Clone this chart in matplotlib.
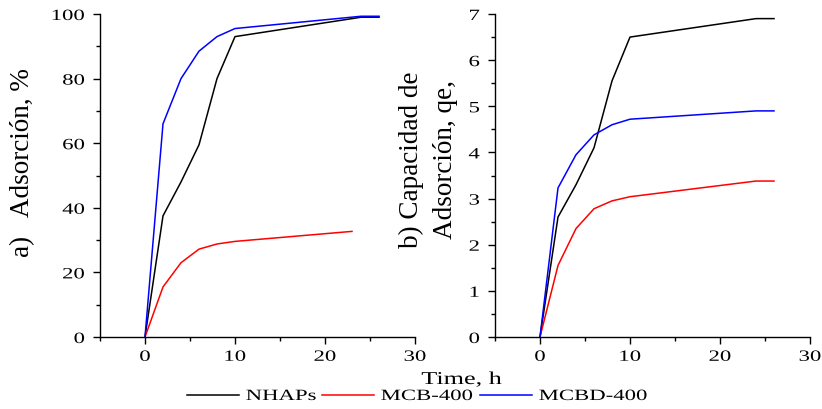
import matplotlib
matplotlib.use("Agg")
import matplotlib.pyplot as plt
from matplotlib.ticker import MultipleLocator
from matplotlib.patheffects import AbstractPathEffect
from matplotlib.transforms import Affine2D

plt.rcParams['font.family'] = ['Liberation Serif', 'DejaVu Serif']

# ---- data ----
t = [0, 2, 4, 6, 8, 10, 24, 26]
t_mcb_a = [0, 2, 4, 6, 8, 10, 23]
ads_nhaps = [0, 37.5, 48, 59.5, 80, 93, 99, 99]
ads_mcb = [0, 15.5, 23, 27.2, 28.8, 29.6, 32.7]
ads_mcbd = [0, 66, 80, 88.5, 93, 95.5, 99.3, 99.3]

qe_nhaps = [0, 2.6, 3.3, 4.1, 5.55, 6.5, 6.9, 6.9]
qe_mcb = [0, 1.55, 2.35, 2.78, 2.95, 3.04, 3.38, 3.38]
qe_mcbd = [0, 3.23, 3.95, 4.38, 4.6, 4.72, 4.9, 4.9]

labels = ['NHAPs', 'MCB-400', 'MCBD-400']
colors = ['black', 'red', 'blue']


class HStretch(AbstractPathEffect):
    """Draw text widened horizontally (the reference uses a wide serif)."""
    def __init__(self, sx=1.45, anchor=0.5):
        super().__init__()
        self.sx = sx
        self.anchor = anchor

    def draw_path(self, renderer, gc, tpath, affine, rgbFace=None):
        ext = tpath.get_extents()
        x0 = ext.x0 + self.anchor * ext.width
        pre = Affine2D().translate(-x0, 0).scale(self.sx, 1).translate(x0, 0)
        renderer.draw_path(gc, tpath, pre + affine, rgbFace)


SX = 1.45
fig = plt.figure(figsize=(8.22, 4.10), dpi=100)
W, H = 822, 410
ax1 = fig.add_axes([100/W, 1-338/H, 315/W, 323/H])
ax2 = fig.add_axes([495/W, 1-338/H, 315/W, 323/H])

lines = []
lines.append(ax1.plot(t, ads_nhaps, color=colors[0], lw=1.1)[0])
lines.append(ax1.plot(t_mcb_a, ads_mcb, color=colors[1], lw=1.1)[0])
lines.append(ax1.plot(t, ads_mcbd, color=colors[2], lw=1.1)[0])
ax2.plot(t, qe_nhaps, color=colors[0], lw=1.1)
ax2.plot(t, qe_mcb, color=colors[1], lw=1.1)
ax2.plot(t, qe_mcbd, color=colors[2], lw=1.1)

ax1.set_ylim(0, 100)
ax1.yaxis.set_major_locator(MultipleLocator(20))
ax1.yaxis.set_minor_locator(MultipleLocator(10))
ax2.set_ylim(0, 7)
ax2.yaxis.set_major_locator(MultipleLocator(1))
ax2.yaxis.set_minor_locator(MultipleLocator(0.5))

for ax in (ax1, ax2):
    ax.set_xlim(-5, 30)
    ax.spines['top'].set_visible(False)
    ax.spines['right'].set_visible(False)
    for s in ('left', 'bottom'):
        ax.spines[s].set_linewidth(1.0)
    ax.xaxis.set_major_locator(MultipleLocator(10))
    ax.xaxis.set_minor_locator(MultipleLocator(5))
    ax.tick_params(which='major', direction='out', length=5, width=1, labelsize=11.3)
    ax.tick_params(which='minor', direction='out', length=3, width=1)
    ax.tick_params(axis='y', pad=6)
    ax.tick_params(axis='x', pad=3.5)
    for lab in ax.get_xticklabels():
        lab.set_path_effects([HStretch(SX, 0.5)])
    for lab in ax.get_yticklabels():
        lab.set_path_effects([HStretch(SX, 1.0)])

fig.text(23/W, 1-163/H, 'a)   Adsorción, %', rotation=90, ha='center', va='center', fontsize=19.5)
fig.text(411/W, 1-160/H, 'b) Capacidad de', rotation=90, ha='center', va='center', fontsize=19.5)
fig.text(445/W, 1-160/H, 'Adsorción, qe,', rotation=90, ha='center', va='center', fontsize=19.5)

fig.text(461.5/W, 1-385/H, 'Time, h', ha='center', va='baseline', fontsize=13,
         path_effects=[HStretch(SX, 0.5)])

# one legend entry per column, placed like the reference's stretched legend
leg_x = [187, 322, 480]
for line, lab, x in zip(lines, labels, leg_x):
    leg = fig.legend([line], [lab], loc='center left', bbox_to_anchor=(x/W, 1-397/H),
                     frameon=False, prop={'size': 11.3}, handlelength=3.3,
                     handletextpad=0.45, borderpad=0, borderaxespad=0)
    for txt in leg.get_texts():
        txt.set_path_effects([HStretch(SX, 0.0)])

fig.savefig('out.png', dpi=100)
